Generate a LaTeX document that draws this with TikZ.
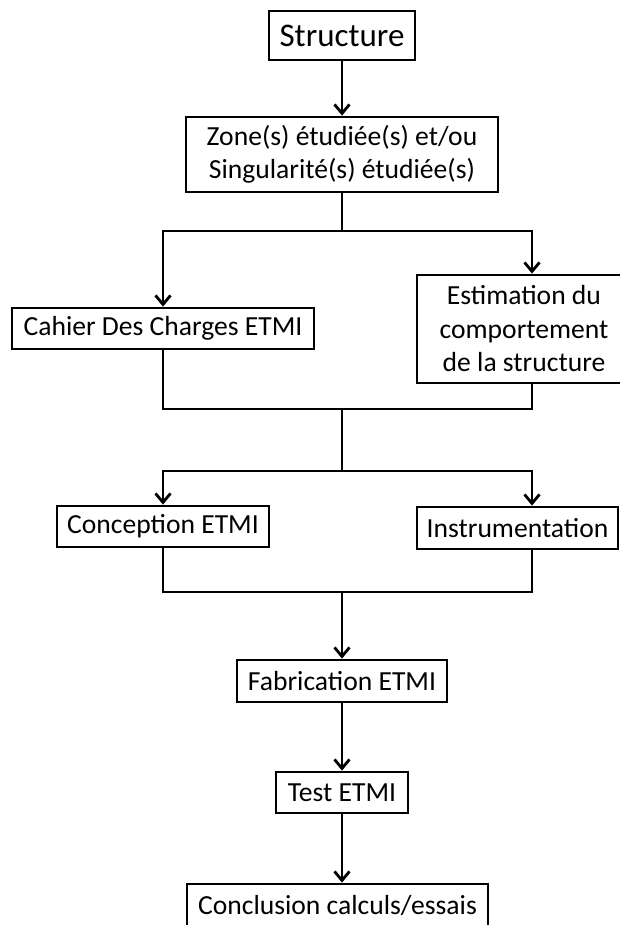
\documentclass[tikz,border=0pt]{standalone}
\usepackage{fontspec}
\setmainfont{Carlito}
\usetikzlibrary{arrows.meta}
\begin{document}
\begin{tikzpicture}[x=1pt,y=-1pt,
  box/.style={draw, line width=2.8pt, inner sep=0pt, align=center,
    font=\fontsize{27.6}{33.5}\selectfont},
  conn/.style={line width=2.8pt},
  arr/.style={conn, -{Straight Barb[length=9pt,width=15pt]}}]
\useasboundingbox (0,0) rectangle (620,925);
\clip (0,0) rectangle (620,925);
\node[box, minimum width=146pt, minimum height=49pt, font=\fontsize{33}{39}\selectfont] (st) at (342,35.5) {Structure};
\node[box, minimum width=312pt, minimum height=75pt] (zone) at (342,154.5) {Zone(s) étudiée(s) et/ou\\Singularité(s) étudiée(s)};
\node[box, minimum width=302pt, minimum height=41pt] (cahier) at (163,328.5) {Cahier Des Charges ETMI};
\node[box, minimum width=214pt, minimum height=108pt] (est) at (524,329) {Estimation du\\comportement\\de la structure};
\node[box, minimum width=212pt, minimum height=41pt] (concep) at (163,526.5) {Conception ETMI};
\node[box, minimum width=201pt, minimum height=42pt] (instr) at (517.5,528) {Instrumentation};
\node[box, minimum width=210pt, minimum height=42pt] (fab) at (342,681) {Fabrication ETMI};
\node[box, minimum width=132pt, minimum height=41pt] (test) at (342,792.5) {Test ETMI};
\node[box, minimum width=301pt, minimum height=42pt] (concl) at (337.5,905) {Conclusion calculs/essais};
\coordinate (j1) at (342,231);
\coordinate (r1) at (532,231);
\coordinate (j2) at (342,409);
\coordinate (j3) at (342,471);
\coordinate (j4) at (342,592);
% connectors
\draw[arr] (st.south) -- (zone.north);
\draw[conn] (zone.south) -- (j1);
\draw[arr] (j1) -| (cahier.north);
\draw[arr] (j1) -- (r1) -- (r1 |- est.north);
\draw[conn] (cahier.south) |- (j2);
\draw[conn] (r1 |- est.south) |- (j2);
\draw[conn] (j2) -- (j3);
\draw[arr] (j3) -| (concep.north);
\draw[arr] (j3) -| (r1 |- instr.north);
\draw[conn] (concep.south) |- (j4);
\draw[conn] (r1 |- instr.south) |- (j4);
\draw[arr] (j4) -- (fab.north);
\draw[arr] (fab.south) -- (test.north);
\draw[arr] (test.south) -- (test.south |- concl.north);
\end{tikzpicture}
\end{document}
